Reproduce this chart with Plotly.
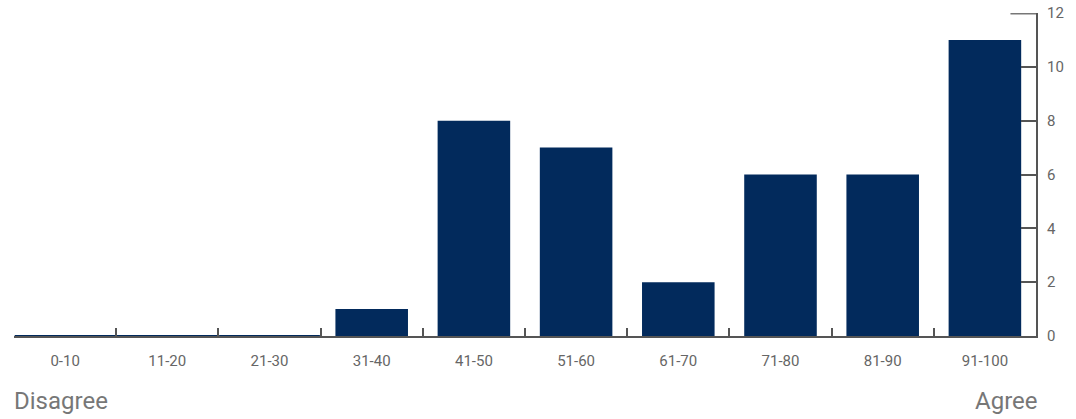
import plotly.graph_objects as go

categories = ["0-10", "11-20", "21-30", "31-40", "41-50", "51-60", "61-70", "71-80", "81-90", "91-100"]
counts = [0, 0, 0, 1, 8, 7, 2, 6, 6, 11]
y_ticks = [0, 2, 4, 6, 8, 10, 12]
y_max = 12

navy = "#022a5c"
axis_grey = "#555555"
label_grey = "#666666"
font_family = "Roboto, sans-serif"

fig = go.Figure()
fig.add_trace(go.Bar(x=categories, y=counts, marker_color=navy, marker_line_width=0))

# zero-count bins still show a thin bar along the baseline
zero_x = [c for c, v in zip(categories, counts) if v == 0]
zero_y = [v for v in counts if v == 0]
fig.add_trace(go.Scatter(
    x=zero_x, y=zero_y, mode="markers", cliponaxis=False,
    marker=dict(symbol="line-ew", size=72, line=dict(color=navy, width=2)),
    hoverinfo="skip",
))

fig.update_layout(
    width=1076, height=419,
    margin=dict(l=14, r=40, t=13, b=83),
    paper_bgcolor="white", plot_bgcolor="white",
    showlegend=False, bargap=0.29,
    font=dict(family=font_family, color=label_grey, size=15),
    xaxis=dict(
        type="category", tickson="boundaries", ticks="inside", ticklen=8,
        tickcolor=axis_grey, tickwidth=2, showline=True, linecolor=axis_grey,
        linewidth=2, showgrid=False, tickfont=dict(size=15, color=label_grey),
        ticklabelstandoff=10, range=[-0.5, 9.5], automargin=False,
    ),
    yaxis=dict(
        side="right", range=[0, y_max], tickvals=y_ticks, ticks="inside", ticklen=15,
        tickcolor=axis_grey, tickwidth=2, showline=True, linecolor=axis_grey,
        linewidth=2, showgrid=False, zeroline=False, ticklabelstandoff=6,
        tickfont=dict(size=15, color=label_grey), automargin=False,
    ),
    # longer cap tick at the top of the value axis
    shapes=[dict(type="line", xref="paper", yref="y", x0=0.975, x1=1.0,
                 y0=y_max, y1=y_max, line=dict(color="#777777", width=3))],
    annotations=[
        dict(text="Disagree", xref="paper", yref="paper", x=-0.002, y=-0.2,
             xanchor="left", yanchor="middle", showarrow=False,
             font=dict(size=24, color="#777777")),
        dict(text="Agree", xref="paper", yref="paper", x=1.004, y=-0.2,
             xanchor="right", yanchor="middle", showarrow=False,
             font=dict(size=24, color="#777777")),
    ],
)

fig.write_html("out.html")
